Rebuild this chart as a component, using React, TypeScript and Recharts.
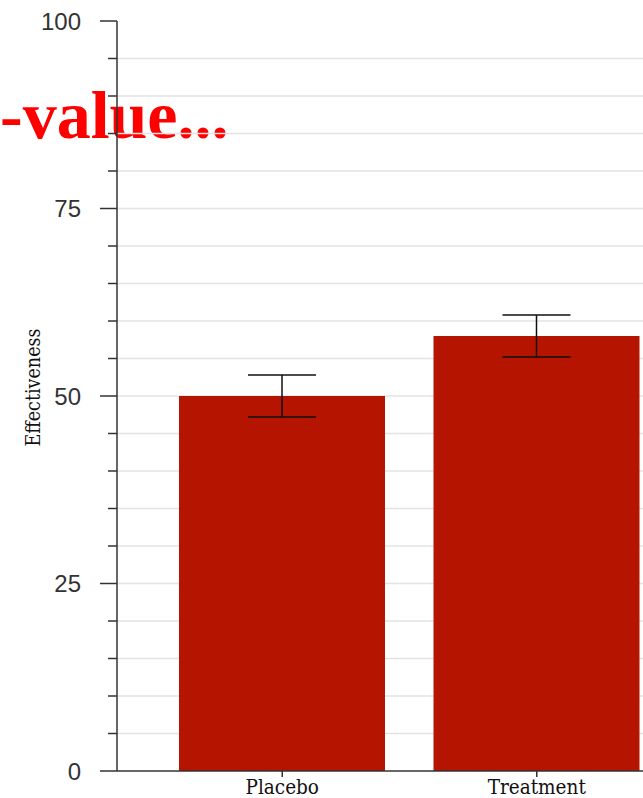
import React from 'react';
import { BarChart, Bar, XAxis, YAxis, CartesianGrid, ErrorBar } from 'recharts';

const categories = ['Placebo', 'Treatment'];
const effectiveness = [50, 58];
const errors = [2.8, 2.8];
const yTicks = [0, 5, 10, 15, 20, 25, 30, 35, 40, 45, 50, 55, 60, 65, 70, 75, 80, 85, 90, 95, 100];
const majorTicks = [0, 25, 50, 75, 100];
const gridValues = [5, 10, 15, 20, 25, 30, 35, 40, 45, 50, 55, 60, 65, 70, 75, 80, 85, 90, 95];
const titleText = '-value...';
const yLabel = 'Effectiveness';

const data = categories.map((c, i) => ({ name: c, value: effectiveness[i], err: errors[i] }));

const YTick = (props: any) => {
  const { x, y, payload } = props;
  const major = majorTicks.includes(payload.value);
  return (
    <g>
      <line x1={x - (major ? 17 : 9)} x2={x} y1={y} y2={y} stroke="#333" strokeWidth={1.5} />
      {major && (
        <text
          x={x - 36}
          y={y}
          dy="0.36em"
          textAnchor="end"
          fontFamily="'Liberation Sans Narrow', 'Liberation Sans', sans-serif"
          fontSize={24}
          fill="#333"
        >
          {payload.value}
        </text>
      )}
    </g>
  );
};

const YLabel = (props: any) => {
  const vb = props.viewBox || { x: 0, y: 21, width: 117, height: 750 };
  const cx = 33;
  const cy = vb.y + vb.height / 2 - 8.5;
  return (
    <text
      x={cx}
      y={cy}
      transform={`rotate(-90, ${cx}, ${cy})`}
      textAnchor="middle"
      dominantBaseline="central"
      fontFamily="'DejaVu Serif Condensed', 'DejaVu Serif', serif"
      fontSize={19.5}
      fill="#111"
    >
      {yLabel}
    </text>
  );
};

export default function App() {
  return (
    <div
      style={{
        position: 'absolute',
        left: 0,
        top: 0,
        width: 643,
        height: 798,
        overflow: 'hidden',
        background: '#fff',
      }}
    >
      <svg width={643} height={798} style={{ position: 'absolute', left: 0, top: 0 }}>
        <text
          x={0}
          y={138}
          textAnchor="start"
          fontFamily="'Liberation Serif', 'Times New Roman', serif"
          fontWeight="bold"
          fontSize={68}
          fill="#ff0000"
        >
          {titleText}
        </text>
      </svg>
      <div style={{ position: 'absolute', left: 0, top: 0 }}>
        <BarChart
          width={680}
          height={798}
          data={data}
          margin={{ top: 21, right: 0, bottom: 0, left: 0 }}
        >
          <CartesianGrid
            vertical={false}
            horizontalValues={gridValues}
            stroke="#e3e3e3"
            strokeWidth={1.5}
          />
          <XAxis
            dataKey="name"
            height={27}
            padding={{ left: 38, right: 16 }}
            axisLine={{ stroke: '#333', strokeWidth: 1.5 }}
            tickLine={{ stroke: '#333', strokeWidth: 1.5 }}
            tickSize={6}
            tickMargin={2}
            tick={{
              fontFamily: "'DejaVu Serif Condensed', 'DejaVu Serif', serif",
              fontSize: 20.5,
              fill: '#111',
            }}
          />
          <YAxis
            width={117}
            domain={[0, 100]}
            ticks={yTicks}
            interval={0}
            tickSize={0}
            tickMargin={0}
            tickLine={false}
            axisLine={{ stroke: '#333', strokeWidth: 1.5 }}
            tick={<YTick />}
            label={<YLabel />}
          />
          <Bar dataKey="value" fill="#b51400" barSize={206} isAnimationActive={false}>
            <ErrorBar dataKey="err" width={34} stroke="#111" strokeWidth={1.5} />
          </Bar>
        </BarChart>
      </div>
    </div>
  );
}
